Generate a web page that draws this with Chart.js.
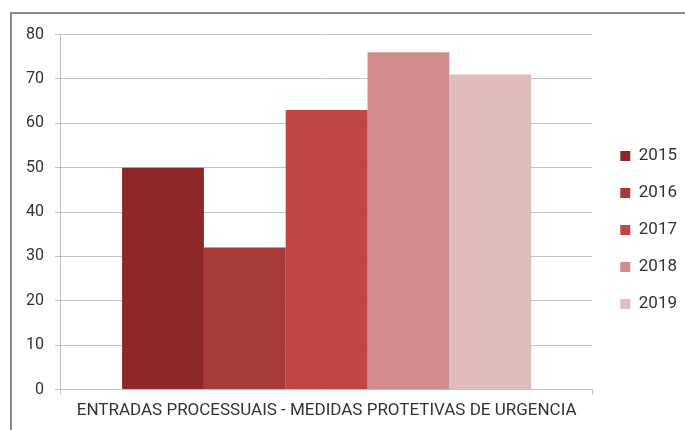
<!DOCTYPE html>
<html>
<head>
<meta charset="utf-8">
<script src="https://cdn.jsdelivr.net/npm/chart.js@4"></script>
<style>
  html, body { margin: 0; padding: 0; background: #fff; }
  #frame {
    position: absolute; left: 10px; top: 12px; width: 675px; height: 418px;
    border-top: 2px solid #8c8c8c; border-left: 2px solid #8c8c8c;
  }
  #wrap { position: absolute; left: 0; top: 0; width: 675px; height: 418px; }
</style>
</head>
<body>
<div id="frame"><div id="wrap"><canvas id="chart"></canvas></div></div>
<script>
// dados
const categories = ['ENTRADAS PROCESSUAIS - MEDIDAS PROTETIVAS DE URGENCIA'];
const years = ['2015', '2016', '2017', '2018', '2019'];
const values = [50, 32, 63, 76, 71];
const colors = ['#8e2826', '#a83a37', '#c04644', '#d28c8c', '#e0bcbb'];

const fontFamily = 'Roboto, sans-serif';

const ctx = document.getElementById('chart').getContext('2d');
new Chart(ctx, {
  type: 'bar',
  data: {
    labels: categories,
    datasets: years.map((y, i) => ({
      label: y,
      data: [values[i]],
      backgroundColor: colors[i],
      borderWidth: 0,
      barPercentage: 1,
      categoryPercentage: 0.77
    }))
  },
  options: {
    responsive: true,
    maintainAspectRatio: false,
    animation: false,
    layout: { padding: { top: 19, left: 3, right: 0, bottom: 5 } },
    plugins: {
      tooltip: { enabled: false },
      legend: {
        position: 'right',
        labels: {
          boxWidth: 10,
          boxHeight: 10,
          padding: 20,
          color: '#333',
          font: { family: fontFamily, size: 17 }
        }
      }
    },
    scales: {
      x: {
        grid: { display: true, drawOnChartArea: false, color: '#bfbfbf', tickLength: 5, offset: true },
        border: { color: '#bfbfbf' },
        ticks: {
          color: '#333',
          padding: 6,
          font: { family: fontFamily, size: 17 }
        }
      },
      y: {
        min: 0,
        max: 80,
        ticks: {
          stepSize: 10,
          color: '#333',
          padding: 11,
          font: { family: fontFamily, size: 16 }
        },
        grid: { color: '#c4c4c4', tickLength: 6 },
        border: { color: '#bfbfbf' }
      },
      // espaco vazio entre a area do grafico e a legenda
      gap: {
        position: 'right',
        display: true,
        grid: { display: false },
        border: { display: false },
        ticks: { display: false },
        afterFit: (s) => { s.width = 8; }
      }
    }
  }
});
</script>
</body>
</html>
